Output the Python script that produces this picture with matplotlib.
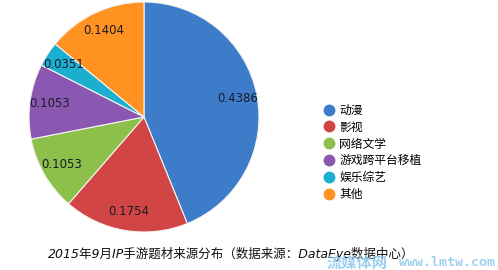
import matplotlib as mpl
mpl.use('agg')
import matplotlib.pyplot as plt
from matplotlib.lines import Line2D

plt.rcParams['font.family'] = ['DejaVu Sans', 'Noto Sans CJK SC']

# data
categories = ['动漫', '影视', '网络文学', '游戏跨平台移植', '娱乐综艺', '其他']
shares = [0.4386, 0.1754, 0.1053, 0.1053, 0.0351, 0.1404]
colors = ['#3d7cc9', '#d24545', '#8dc04a', '#8a58b0', '#1aafcf', '#ff9220']
title = '2015年9月IP手游题材来源分布（数据来源：DataEye数据中心）'

fig = plt.figure(figsize=(4.98, 2.70), dpi=100)
ax = fig.add_axes([29 / 498, 38 / 270, 230 / 498, 230 / 270])

wedges, texts = ax.pie(shares, colors=colors, startangle=90, counterclock=False,
                       labels=['%.4f' % v for v in shares], labeldistance=0.83,
                       wedgeprops=dict(edgecolor='#f4f4f4', linewidth=0.8),
                       textprops=dict(fontsize=8.5, color='#1a1a2a', ha='center', va='center'))
ax.set_xlim(-1, 1)
ax.set_ylim(-1, 1)

handles = [Line2D([], [], marker='o', linestyle='none', markersize=7.5,
                  markerfacecolor=c, markeredgecolor=c) for c in colors]
fig.legend(handles, categories, loc='upper left', bbox_to_anchor=(317 / 498, 1 - 99 / 270),
           frameon=False, handletextpad=0.3, labelspacing=0.33,
           handlelength=1.2, borderaxespad=0, prop={'family': 'Noto Sans CJK SC', 'size': 8.5})

fig.text(231 / 498, 1 - 254 / 270, title, ha='center', va='center', fontsize=9,
         style='italic', color='#111111')

# watermark (overlaps the title, as in the source image)
fig.text(327 / 498, 1 - 263 / 270, '流媒体网', ha='left', va='center',
         fontsize=11, color='#8ec8ee', alpha=0.85, family='Noto Sans CJK SC',
         weight='bold')
fig.text(495 / 498, 1 - 263 / 270, 'www.lmtw.com', ha='right', va='center',
         fontsize=9.5, color='#8ec8ee', alpha=0.85, family='DejaVu Sans Mono',
         weight='bold')

fig.savefig('out.png', dpi=100)
